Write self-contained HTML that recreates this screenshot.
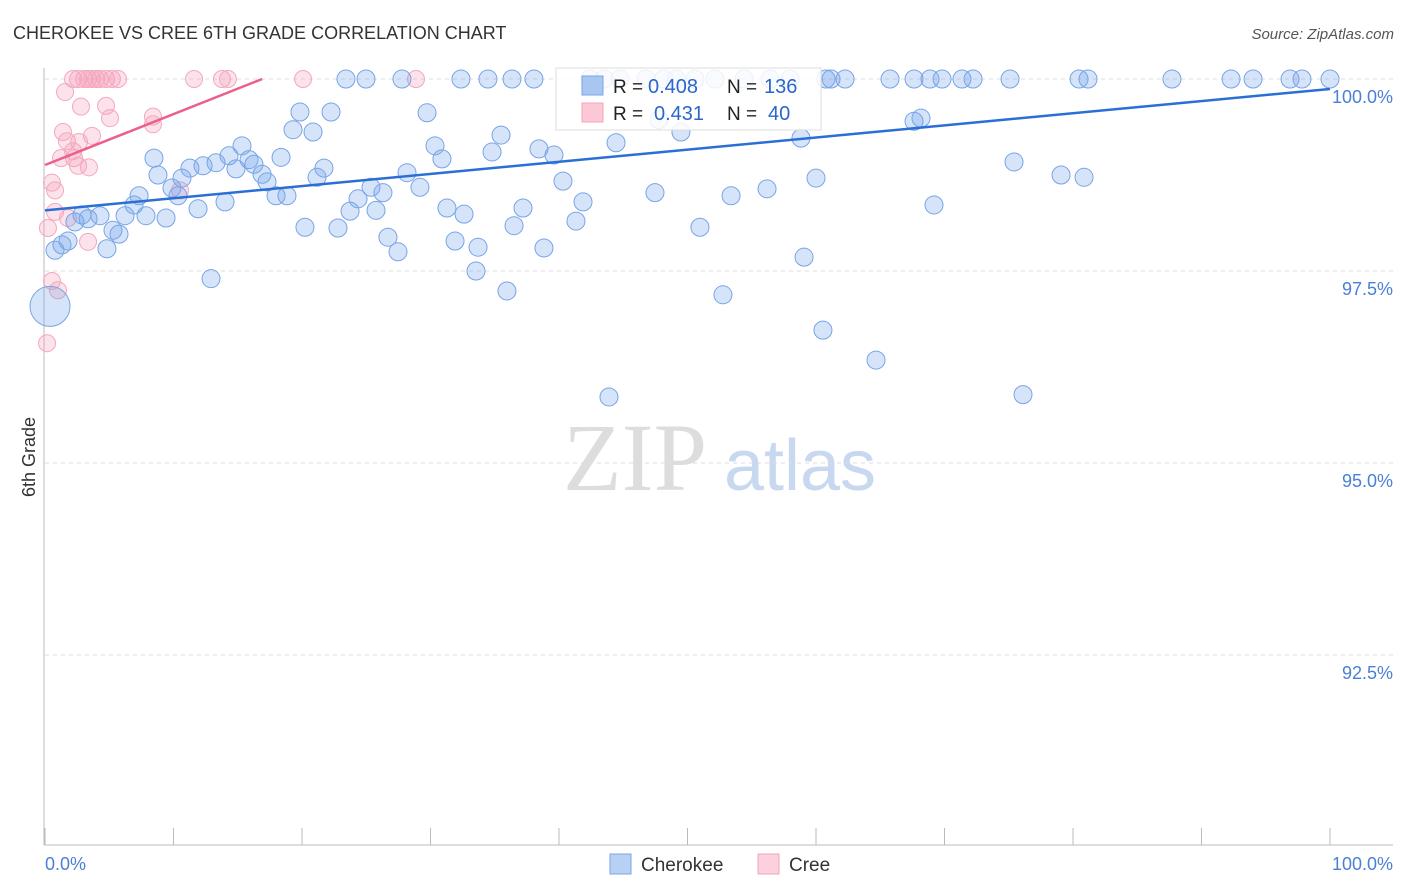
<!DOCTYPE html>
<html><head><meta charset="utf-8"><style>
body{margin:0;background:#fff;font-family:"Liberation Sans",sans-serif}
svg{display:block}
</style></head><body>
<svg id="chart" width="1406" height="892">
<text x="13" y="39" font-size="18" fill="#333">CHEROKEE VS CREE 6TH GRADE CORRELATION CHART</text>
<text x="1394" y="39" font-size="15" fill="#555" text-anchor="end" font-style="italic">Source: ZipAtlas.com</text>
<text x="35" y="457" font-size="18" fill="#333" text-anchor="middle" transform="rotate(-90 35 457)">6th Grade</text>
<text x="635" y="490" font-size="96" fill="#ddd" text-anchor="middle" font-family="Liberation Serif">ZIP</text>
<text x="800" y="490" font-size="72" fill="#c8d8f0" text-anchor="middle">atlas</text>
<g id="grid"></g><g id="axes"></g><g id="pts"></g><g id="lines"></g>
<g>
<rect x="556" y="68" width="265" height="62" fill="#fff" fill-opacity="0.85" stroke="#ddd"/>
<rect x="582" y="76" width="21" height="19" fill="#a8c6f0" stroke="#7aa6e6"/>
<rect x="582" y="103" width="21" height="19" fill="#fcc8d6" stroke="#f3a3b9"/>
<text x="613" y="93" font-size="19" fill="#222">R =</text>
<text x="648" y="93" font-size="20" fill="#2a66cc">0.408</text>
<text x="727" y="93" font-size="19" fill="#222">N =</text>
<text x="764" y="93" font-size="20" fill="#2a66cc">136</text>
<text x="613" y="120" font-size="19" fill="#222">R =</text>
<text x="654" y="120" font-size="20" fill="#2a66cc">0.431</text>
<text x="727" y="120" font-size="19" fill="#222">N =</text>
<text x="768" y="120" font-size="20" fill="#2a66cc">40</text>
</g>
<g>
<rect x="610" y="854" width="21" height="20" fill="#b8d0f4" stroke="#7aa6e6"/>
<text x="641" y="871" font-size="19" fill="#333">Cherokee</text>
<rect x="758" y="854" width="21" height="20" fill="#fcd0dc" stroke="#f3a3b9"/>
<text x="789" y="871" font-size="19" fill="#333">Cree</text>
</g>
</svg>
<script>
const blueX=[0.78,1.32,1.79,2.33,2.88,3.35,4.28,4.82,5.29,5.76,6.23,6.93,7.32,7.86,8.48,8.79,9.42,9.88,10.35,10.66,11.28,11.91,12.30,12.92,13.31,14.01,14.32,14.86,15.33,15.88,16.26,16.89,17.28,17.98,18.37,18.83,19.30,19.84,20.23,20.86,21.17,21.71,22.26,22.80,23.74,24.36,25.37,25.76,26.30,26.69,27.47,28.17,29.18,29.73,30.35,30.89,31.28,31.91,32.61,33.54,33.70,34.79,35.49,35.95,36.50,37.20,38.44,38.83,39.61,40.31,41.32,41.87,43.89,44.44,47.47,47.78,49.49,50.97,52.76,53.39,56.19,58.83,59.07,60.00,60.54,64.67,67.63,68.17,69.18,75.41,76.11,79.07,80.86,
23.42,24.98,27.78,32.37,34.47,36.34,38.05,42.41,43.50,44.75,46.77,48.17,49.11,50.58,52.14,54.40,56.42,57.98,60.78,61.17,62.26,65.76,67.63,68.87,69.81,71.36,72.22,75.10,80.47,81.17,87.70,92.30,94.01,96.89,97.82,100];
const blueY=[97.77,97.84,97.89,98.14,98.23,98.18,98.22,97.79,98.03,97.98,98.22,98.36,98.48,98.22,98.97,98.75,98.19,98.58,98.48,98.71,98.84,98.31,98.87,97.40,98.91,98.40,99.00,98.83,99.13,98.95,98.89,98.76,98.66,98.48,98.98,98.48,99.34,99.57,98.07,99.31,98.72,98.84,99.57,98.06,98.28,98.44,98.59,98.29,98.52,97.94,97.75,98.78,98.59,99.56,99.13,98.96,98.32,97.89,98.24,97.50,97.81,99.05,99.27,97.24,98.09,98.32,99.09,97.80,99.01,98.67,98.15,98.40,95.86,99.17,98.52,99.47,99.31,98.07,97.19,98.48,98.57,99.23,97.68,98.71,96.73,96.34,99.45,99.49,98.36,98.92,95.89,98.75,98.72,
100,100,100,100,100,100,100,100,100,100,100,100,100,100,100,100,100,100,100,100,100,100,100,100,100,100,100,100,100,100,100,100,100,100,100,100];
const bigX=[0.39], bigY=[97.04];
const pinkX=[2.18,2.57,3.04,3.35,3.66,3.97,4.28,4.75,5.21,5.68,11.60,13.77,14.24,20.08,28.87,1.56,2.80,4.75,5.06,8.40,8.40,1.40,3.66,1.71,2.65,1.25,2.26,2.57,3.42,2.18,0.54,0.78,10.51,0.78,1.79,3.35,0.23,0.54,1.01,0.16];
const pinkY=[100,100,100,100,100,100,100,100,100,100,100,100,100,100,100,99.83,99.64,99.65,99.49,99.51,99.41,99.31,99.26,99.19,99.18,98.97,98.97,98.87,98.85,99.06,98.65,98.55,98.55,98.27,98.19,97.88,98.06,97.37,97.25,96.56];
const blueTrendX=[0,100], blueTrendY=[98.29,99.87];
const pinkTrendX=[0,16.9], pinkTrendY=[98.88,100];
const yTicks=[100,97.5,95,92.5], yTickLabels=["100.0%","97.5%","95.0%","92.5%"];
const xTicks=[0,10,20,30,40,50,60,70,80,90,100];
const NS="http://www.w3.org/2000/svg";
const X=v=>45+v*12.85, Y=v=>79+(100-v)*76.8;
function mk(tag,attrs,parent){const e=document.createElementNS(NS,tag);for(const k in attrs)e.setAttribute(k,attrs[k]);document.getElementById(parent).appendChild(e);return e;}
yTicks.forEach((t,i)=>{
 const g=mk('line',{x1:45,x2:1393,y1:Y(t),y2:Y(t),stroke:'#ddd','stroke-dasharray':'4 4'},'grid');
 
 
 const l=mk('text',{x:1393,y:Y(t)+24,'font-size':18,fill:'#4a7fd6','text-anchor':'end'},'grid');
 l.textContent=yTickLabels[i];
 
 
});
const ax=mk('line',{x1:44,x2:44,y1:68,y2:845,stroke:'#bbb'},'axes');


const bx=mk('line',{x1:44,x2:1393,y1:845,y2:845,stroke:'#bbb'},'axes');


xTicks.forEach(t=>{
 const tk=mk('line',{x1:X(t),x2:X(t),y1:828,y2:845,stroke:'#bbb'},'axes');
 
 
});
[[0,"0.0%","start",45],[100,"100.0%","end",1393]].forEach(a=>{
 const t=mk('text',{x:a[3],y:870,'font-size':18,fill:'#4a7fd6','text-anchor':a[2]},'axes');
 t.textContent=a[1];
 
 
});
pinkX.forEach((v,i)=>{
 const c=mk('circle',{cx:X(v),cy:Y(pinkY[i]),r:8.5,fill:'rgba(245,160,185,0.3)',stroke:'#f4a8be','stroke-width':1},'pts');
 
 
});
blueX.forEach((v,i)=>{
 const c=mk('circle',{cx:X(v),cy:Y(blueY[i]),r:9,fill:'rgba(120,165,235,0.3)',stroke:'#78a4e6','stroke-width':1},'pts');
 
 
});
bigX.forEach((v,i)=>{
 const c=mk('circle',{cx:X(v),cy:Y(bigY[i]),r:20,fill:'rgba(120,165,235,0.3)',stroke:'#78a4e6','stroke-width':1},'pts');
 
 
});
const bl=mk('line',{x1:X(blueTrendX[0]),y1:Y(blueTrendY[0]),x2:X(blueTrendX[1]),y2:Y(blueTrendY[1]),stroke:'#2b6fd6','stroke-width':2.5},'lines');


const pl=mk('line',{x1:X(pinkTrendX[0]),y1:Y(pinkTrendY[0]),x2:X(pinkTrendX[1]),y2:Y(pinkTrendY[1]),stroke:'#ec5f8a','stroke-width':2.5},'lines');


</script>
</body></html>
